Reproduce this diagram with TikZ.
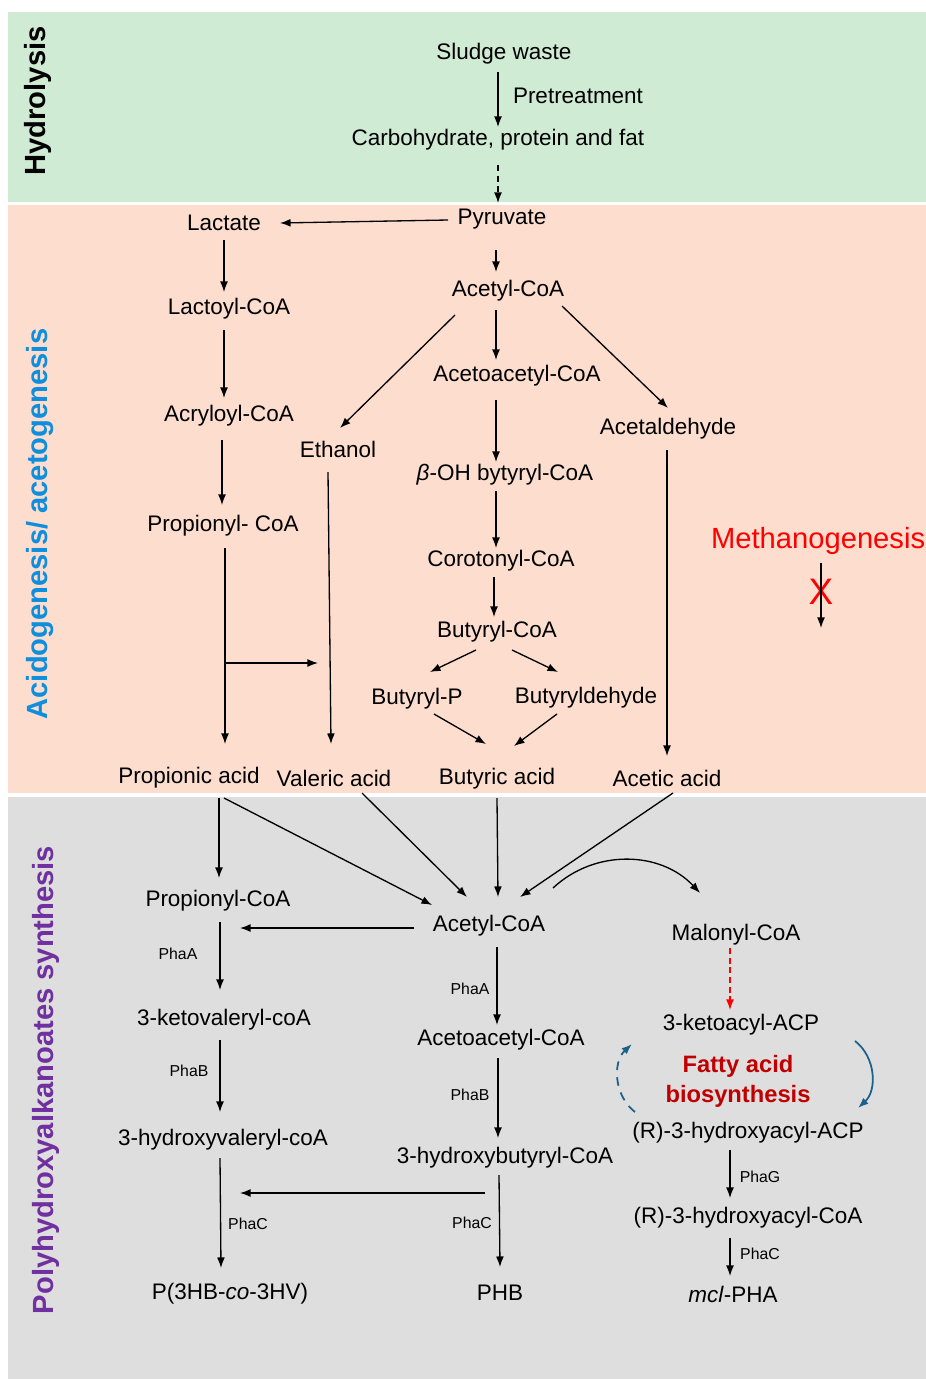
\documentclass[tikz,border=0pt]{standalone}
\usepackage{fontspec}
\setmainfont{Liberation Sans}
\usetikzlibrary{arrows.meta,calc}
\definecolor{hydrogreen}{RGB}{207,235,212}
\definecolor{acidorange}{RGB}{252,221,206}
\definecolor{phagray}{RGB}{222,222,222}
\definecolor{acidblue}{RGB}{14,142,222}
\definecolor{phapurple}{RGB}{112,48,160}
\definecolor{fattyred}{RGB}{192,0,0}
\definecolor{cycleblue}{RGB}{28,96,140}

\begin{document}
\begin{tikzpicture}
    [x=0.02cm,y=-0.02cm,
     every node/.style={font=\fontsize{12.8}{15}\selectfont,inner sep=1pt},
     arr/.style={line width=0.75pt,-{Latex[length=6pt,width=4.5pt]}},
     enz/.style={font=\fontsize{9}{11}\selectfont},
     phase/.style={rotate=90,font=\fontsize{16.6}{19}\selectfont\bfseries}]
    \useasboundingbox (0,0) rectangle (926,1379);
    % the three stages
    \fill[hydrogreen] (8,12) rectangle (926,202);
    \fill[acidorange] (8,205) rectangle (926,793);
    \fill[phagray] (8,797) rectangle (926,1379);
    \node[phase] (hyd) at (38,101) {Hydrolysis};
    \node[phase,acidblue] (acid) at (40,524) {Acidogenesis/ acetogenesis};
    \node[phase,phapurple] (pha) at (46,1080) {Polyhydroxyalkanoates synthesis};

    % hydrolysis
    \node (sludge) at (504,54) {Sludge waste};
    \node (carb) at (498,140) {Carbohydrate, protein and fat};
    \node (pretreat) at (578,96) {Pretreatment};
    \draw[arr] ($(sludge)+(-6,18)$) -- ($(carb)+(0,-13)$);

    % acidogenesis / acetogenesis
    \node (pyr) at (502,219) {Pyruvate};
    \node (lact) at (224,223) {Lactate};
    \node (acetyl1) at (508,291) {Acetyl-CoA};
    \node (lactoyl) at (229,309) {Lactoyl-CoA};
    \node (acryloyl) at (229,416) {Acryloyl-CoA};
    \node (propionyl1) at (223,526) {Propionyl- CoA};
    \node (acetoacetyl1) at (517,376) {Acetoacetyl-CoA};
    \node (ethanol) at (338,449) {Ethanol};
    \node (acetald) at (668,429) {Acetaldehyde};
    \node (bohb) at (505,475) {\textit{β}-OH bytyryl-CoA};
    \node (corot) at (501,561) {Corotonyl-CoA};
    \node (butyryl) at (497,632) {Butyryl-CoA};
    \node (butP) at (417,699) {Butyryl-P};
    \node (butald) at (586,698) {Butyryldehyde};
    \node (propionic) at (189,778) {Propionic acid};
    \node (valeric) at (334,778) {Valeric acid};
    \node (butyric) at (497,779) {Butyric acid};
    \node (acetic) at (667,778) {Acetic acid};
    \node[anchor=west,red,font=\fontsize{16.6}{20}\selectfont] (methano) at (709,541) {Methanogenesis};
    \node[red,font=\fontsize{21}{24}\selectfont] (block) at (821,592) {X};
    \coordinate (methtop) at (821,563);
    \coordinate (methend) at (821,628);
    \coordinate (branch) at (225,663);
    \coordinate (branchend) at (318,663);
    \draw[arr,dash pattern=on 3.5pt off 2.5pt] ($(carb)+(0,25)$) -- ($(pyr)+(-4,-16)$);
    % the lactate route
    \draw[arr] ($(pyr)+(-54,1)$) -- ($(lact)+(56,0)$);
    \draw[arr] ($(lact)+(0,17)$) -- ($(lactoyl)+(-5,-17)$);
    \draw[arr] ($(lactoyl)+(-5,21)$) -- ($(acryloyl)+(-5,-18)$);
    \draw[arr] ($(acryloyl)+(-7,24)$) -- ($(propionyl1)+(-1,-21)$);
    \draw[arr] ($(propionyl1)+(2,22)$) -- ($(propionic)+(36,-34)$);
    \draw[arr] (branch) -- (branchend);
    % the acetyl-CoA route
    \draw[arr] ($(pyr)+(-6,31)$) -- ($(acetyl1)+(-12,-19)$);
    \draw[arr] ($(acetyl1)+(-53,24)$) -- ($(ethanol)+(2,-21)$);
    \draw[arr] ($(acetyl1)+(54,15)$) -- ($(acetald)+(0,-21)$);
    \draw[arr] ($(acetyl1)+(-12,19)$) -- ($(acetoacetyl1)+(-21,-16)$);
    \draw[arr] ($(acetoacetyl1)+(-21,24)$) -- ($(bohb)+(-9,-13)$);
    \draw[arr] ($(bohb)+(-9,16)$) -- ($(corot)+(-5,-13)$);
    \draw[arr] ($(corot)+(-7,16)$) -- ($(butyryl)+(-3,-15)$);
    \draw[arr] ($(butyryl)+(-21,18)$) -- ($(butP)+(13,-27)$);
    \draw[arr] ($(butyryl)+(15,18)$) -- ($(butald)+(-28,-26)$);
    \draw[arr] ($(butP)+(17,15)$) -- ($(butyric)+(-11,-35)$);
    \draw[arr] ($(butald)+(-29,16)$) -- ($(butyric)+(17,-33)$);
    \draw[arr] ($(ethanol)+(-10,23)$) -- ($(valeric)+(-3,-34)$);
    \draw[arr] ($(acetald)+(-1,21)$) -- ($(acetic)+(0,-22)$);
    \draw[arr] (methtop) -- (methend);

    % PHA synthesis
    \node (propionyl2) at (218,901) {Propionyl-CoA};
    \node (acetyl2) at (489,926) {Acetyl-CoA};
    \node (malonyl) at (736,935) {Malonyl-CoA};
    \node (ketoval) at (224,1020) {3-ketovaleryl-coA};
    \node (hydroxyval) at (223,1140) {3-hydroxyvaleryl-coA};
    \node (p3hb) at (230,1294) {P(3HB-\textit{co}-3HV)};
    \node (acetoacetyl2) at (501,1040) {Acetoacetyl-CoA};
    \node (hydroxybut) at (505,1158) {3-hydroxybutyryl-CoA};
    \node (phb) at (500,1293) {PHB};
    \node (ketoacyl) at (741,1025) {3-ketoacyl-ACP};
    \node[align=center,fattyred,font=\fontsize{13.5}{17}\selectfont\bfseries] (fatty) at (738,1081) {Fatty acid\\biosynthesis};
    \node (rhacp) at (748,1133) {(R)-3-hydroxyacyl-ACP};
    \node (rhcoa) at (748,1218) {(R)-3-hydroxyacyl-CoA};
    \node (mcl) at (733,1294) {\textit{mcl}-PHA};
    \node[enz] (phaA1) at (178,954) {PhaA};
    \node[enz] (phaB1) at (189,1071) {PhaB};
    \node[enz] (phaC1) at (248,1224) {PhaC};
    \node[enz] (phaA2) at (470,989) {PhaA};
    \node[enz] (phaB2) at (470,1095) {PhaB};
    \node[enz] (phaC2) at (472,1223) {PhaC};
    \node[enz] (phaG) at (760,1177) {PhaG};
    \node[enz] (phaC3) at (760,1254) {PhaC};
    % acids into the PHA routes
    \draw[arr] ($(propionic)+(30,20)$) -- ($(propionyl2)+(1,-23)$);
    \draw[arr] ($(propionic)+(35,20)$) -- ($(acetyl2)+(-57,-21)$);
    \draw[arr] ($(valeric)+(28,15)$) -- ($(acetyl2)+(-22,-29)$);
    \draw[arr] ($(butyric)+(0,19)$) -- ($(acetyl2)+(9,-29)$);
    \draw[arr] ($(acetic)+(6,15)$) -- ($(acetyl2)+(31,-29)$);
    \draw[arr] ($(acetyl2)+(64,-38)$) to[bend left=45] ($(malonyl)+(-36,-42)$);
    \draw[arr] ($(acetyl2)+(-75,2)$) -- ($(propionyl2)+(22,27)$);
    % P(3HB-co-3HV)
    \draw[arr] ($(propionyl2)+(2,21)$) -- ($(ketoval)+(-4,-30)$);
    \draw[arr] ($(ketoval)+(-4,20)$) -- ($(hydroxyval)+(-3,-28)$);
    \draw[arr] ($(hydroxyval)+(-3,18)$) -- ($(p3hb)+(-9,-26)$);
    % PHB
    \draw[arr] ($(acetyl2)+(8,21)$) -- ($(acetoacetyl2)+(-4,-15)$);
    \draw[arr] ($(acetoacetyl2)+(-3,18)$) -- ($(hydroxybut)+(-7,-20)$);
    \draw[arr] ($(hydroxybut)+(-6,17)$) -- ($(phb)+(0,-26)$);
    \draw[arr] ($(hydroxybut)+(-20,35)$) -- ($(hydroxyval)+(17,53)$);
    % mcl-PHA
    \draw[arr,red,dash pattern=on 3.5pt off 2pt] ($(malonyl)+(-6,13)$) -- ($(ketoacyl)+(-11,-15)$);
    \draw[arr,cycleblue,line width=1pt] ($(ketoacyl)+(114,16)$) to[bend left=50] ($(rhacp)+(110,-25)$);
    \draw[arr,cycleblue,line width=1pt,dash pattern=on 5pt off 4pt] ($(rhacp)+(-113,-21)$) to[bend left=50] ($(ketoacyl)+(-109,19)$);
    \draw[arr] ($(rhacp)+(-18,17)$) -- ($(rhcoa)+(-18,-20)$);
    \draw[arr] ($(rhcoa)+(-18,20)$) -- ($(mcl)+(-3,-18)$);
\end{tikzpicture}
\end{document}
